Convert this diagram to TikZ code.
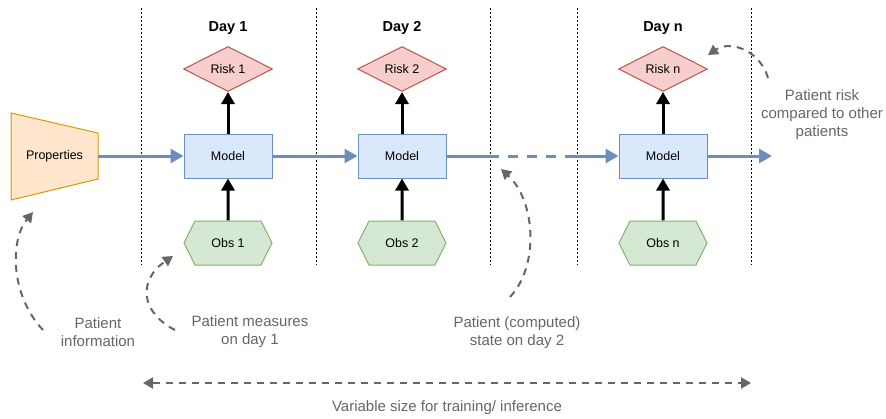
\documentclass[tikz,border=0pt]{standalone}
\usepackage{fontspec}
\setmainfont{Liberation Sans}
\usetikzlibrary{arrows.meta,shapes.geometric,shapes.symbols}
\definecolor{riskfill}{HTML}{F8CECC}
\definecolor{riskline}{HTML}{B85450}
\definecolor{modelfill}{HTML}{DAE8FC}
\definecolor{flowblue}{HTML}{6C8EBF}
\definecolor{obsfill}{HTML}{D5E8D4}
\definecolor{obsline}{HTML}{82B366}
\definecolor{propfill}{HTML}{FFE6CC}
\definecolor{propline}{HTML}{D79B00}
\definecolor{notegray}{HTML}{666666}
\begin{document}
\begin{tikzpicture}[x=1pt,y=-1pt,
		boxtext/.style={font=\fontsize{12.5}{15}\selectfont},
		model/.style={boxtext,draw=flowblue,fill=modelfill,line width=1pt,minimum width=88pt,minimum height=44pt,inner sep=0pt},
		risk/.style={boxtext,diamond,draw=riskline,fill=riskfill,line width=1pt,minimum width=89pt,minimum height=45pt,inner sep=0pt},
		obs/.style={boxtext,signal,signal to=west and east,signal pointer angle=127,draw=obsline,fill=obsfill,line width=1pt,minimum width=88pt,minimum height=44pt,inner sep=0pt},
		day/.style={font=\bfseries\fontsize{14.5}{17}\selectfont},
		note/.style={align=center,text=notegray,font=\fontsize{15}{18}\selectfont},
		flow/.style={draw=flowblue,line width=3pt,-{Triangle[length=13pt,width=14pt]}},
		feed/.style={line width=3pt,-{Triangle[length=12pt,width=13pt]}},
		hint/.style={draw=notegray,line width=2pt,dash pattern=on 7pt off 6pt,-{Triangle[length=10pt,width=11pt]}}]
	\useasboundingbox (0,0) rectangle (886,418);

	\foreach \x in {141,316,490,577,751}
		\draw[line width=1pt,dash pattern=on 2pt off 2pt] (\x,8) -- (\x,265);

	\draw[draw=propline,fill=propfill,line width=1pt] (11,113) -- (98,133) -- (98,179) -- (11,200) -- cycle;
	\node[boxtext,minimum width=87pt,minimum height=87pt,inner sep=0pt] (props) at (54.5,156) {Properties};

	\node[day] (day1) at (228,28) {Day 1};
	\node[day] (day2) at (402,28) {Day 2};
	\node[day] (dayn) at (663,28) {Day n};

	\node[risk] (r1) at (228,69) {Risk 1};
	\node[risk] (r2) at (402,69) {Risk 2};
	\node[risk] (rn) at (663,69) {Risk n};

	\node[model] (m1) at (228,156) {Model};
	\node[model] (m2) at (402,156) {Model};
	\node[model] (mn) at (663,156) {Model};

	\node[obs] (o1) at (228,243) {Obs 1};
	\node[obs] (o2) at (402,243) {Obs 2};
	\node[obs] (on) at (663,243) {Obs n};

	\foreach \n in {1,2,n} {
		\draw[feed] (o\n) -- (m\n);
		\draw[feed] (m\n) -- (r\n);
	}

	\coordinate (gapa) at (499,156);
	\coordinate (gapb) at (565,156);
	\coordinate (outend) at (772,156);
	\draw[flow] (props) -- (m1);
	\draw[flow] (m1) -- (m2);
	\draw[draw=flowblue,line width=3pt] (m2) -- (gapa);
	\draw[draw=flowblue,line width=3pt,dash pattern=on 10pt off 9pt,dash phase=10pt] (gapa) -- (gapb);
	\draw[flow] (gapb) -- (mn);
	\draw[flow] (mn) -- (outend);

	\node[note] (infotxt) at (98,332) {Patient\\information};
	\node[note] (meastxt) at (250,332) {Patient measures\\on day 1};
	\node[note] (statetxt) at (517,333) {Patient (computed)\\state on day 2};
	\node[note] (risktxt) at (822,115) {Patient risk\\compared to other\\patients};
	\node[note] (sizetxt) at (447,408) {Variable size for training/ inference};

	\coordinate (infoa) at (43,330);
	\coordinate (infob) at (33,212);
	\coordinate (measa) at (175,330);
	\coordinate (measb) at (173,256);
	\coordinate (statea) at (510,297);
	\coordinate (stateb) at (501,169);
	\coordinate (riska) at (768,78);
	\coordinate (riskb) at (708,55);
	\coordinate (sizea) at (143,383);
	\coordinate (sizeb) at (751,383);
	\draw[hint] (infoa) .. controls (10,295) and (10,240) .. (infob);
	\draw[hint] (measa) .. controls (140,312) and (138,280) .. (measb);
	\draw[hint] (statea) .. controls (540,265) and (535,200) .. (stateb);
	\draw[hint] (riska) .. controls (760,50) and (730,40) .. (riskb);
	\draw[hint,{Triangle[length=10pt,width=11pt]}-{Triangle[length=10pt,width=11pt]}] (sizea) -- (sizeb);
\end{tikzpicture}
\end{document}
